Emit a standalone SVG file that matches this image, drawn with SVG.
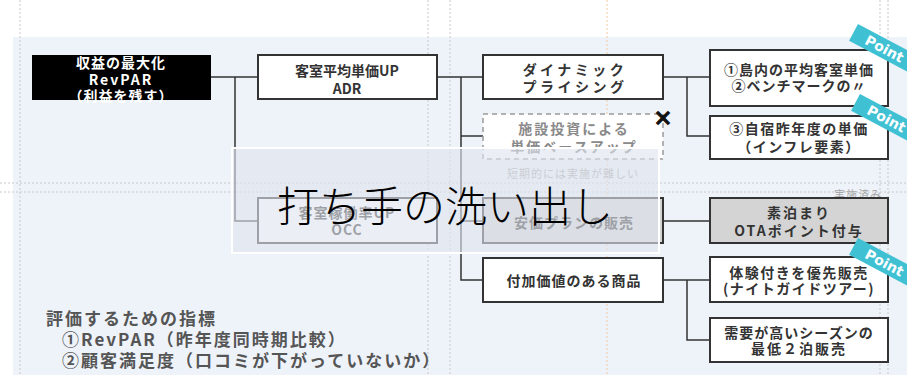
<svg xmlns="http://www.w3.org/2000/svg" width="907" height="375" viewBox="0 0 907 375">
<style>
.guide{stroke:#c8c8c8;stroke-width:1;stroke-dasharray:2 2;fill:none}
.box{fill:#ffffff;stroke:#333333;stroke-width:2}
.gbox{fill:#d4d4d4;stroke:#333333;stroke-width:2}
.dbox{fill:#ffffff;stroke:#9a9a9a;stroke-width:1.5;stroke-dasharray:5 4}
.t{font-family:"Noto Sans CJK JP","Noto Sans",sans-serif;font-weight:700;font-size:14px;fill:#333333;text-anchor:middle;dominant-baseline:central;letter-spacing:1px}
.tw{fill:#ffffff}
.tg{fill:#8a8a8a}
.small{font-family:"Noto Sans CJK JP",sans-serif;font-size:11px;fill:#a8a8a8;text-anchor:middle;dominant-baseline:central;letter-spacing:1px}
.conn path{fill:none;stroke:#333333;stroke-width:1.5}
.rib rect{fill:#3fc1d3}
.rib text{font-family:"DejaVu Sans",sans-serif;font-weight:700;font-size:14px;fill:#ffffff;text-anchor:middle;dominant-baseline:central}
.note{font-family:"Noto Sans CJK JP",sans-serif;font-weight:700;font-size:17px;fill:#555555;dominant-baseline:central;letter-spacing:2px}
</style>
<rect x="0" y="0" width="907" height="375" fill="#ffffff"/>
<rect x="13" y="37" width="894" height="338" fill="#eef3fa"/>
<g id="guides">
<line class="guide" x1="20" y1="0" x2="20" y2="375"/>
<line class="guide" x1="428" y1="0" x2="428" y2="375"/>
<line class="guide" x1="450" y1="0" x2="450" y2="375"/>
<line class="guide" x1="880" y1="0" x2="880" y2="375"/>
<line class="guide" x1="888" y1="0" x2="888" y2="375"/>
<line class="guide" x1="0" y1="183" x2="907" y2="183"/>
<line class="guide" x1="0" y1="192" x2="907" y2="192"/>
<line x1="607" y1="0" x2="607" y2="375" stroke="#f3c9a0" stroke-width="1" stroke-dasharray="2 2"/>
</g>
<g class="conn" id="connectors">
<path d="M211,77 H258"/>
<path d="M235,77 V221 H258"/>
<path d="M437,77 H483"/>
<path d="M461,77 V280 H483"/>
<path d="M461,136 H483"/>
<path d="M461,221 H483"/>
<path d="M663,77 H710"/>
<path d="M687,77 V136 H710"/>
<path d="M663,221 H710"/>
<path d="M663,280 H710"/>
<path d="M687,280 V340 H710"/>
</g>
<g id="root">
<rect x="32" y="55" width="179" height="45" fill="#000000"/>
<text class="t tw" x="121" y="62">収益の最大化</text>
<text class="t tw" x="121" y="79" style="letter-spacing:2px">RevPAR</text>
<text class="t tw" x="121" y="95">（利益を残す）</text>
</g>
<g id="adr">
<rect class="box" x="258" y="55" width="179" height="44"/>
<text class="t" x="347" y="70" style="letter-spacing:0">客室平均単価UP</text>
<text class="t" x="347" y="88" style="letter-spacing:0">ADR</text>
</g>
<g id="occ">
<rect class="box" x="258" y="198" width="179" height="45"/>
<text class="t" x="347" y="212">客室稼働率UP</text>
<text class="t" x="347" y="229">OCC</text>
</g>
<g id="dynamic">
<rect class="box" x="483" y="55" width="180" height="44"/>
<text class="t" x="575" y="69" style="letter-spacing:3.5px">ダイナミック</text>
<text class="t" x="575" y="86" style="letter-spacing:3.5px">プライシング</text>
</g>
<g id="invest">
<rect class="dbox" x="483" y="114" width="180" height="45"/>
<text class="t tg" x="574" y="128" style="letter-spacing:2px">施設投資による</text>
<text class="t tg" x="574" y="146" style="letter-spacing:2px">単価ベースアップ</text>
<text x="663" y="118" font-family="DejaVu Sans,sans-serif" font-weight="700" font-size="22" fill="#111111" stroke="#111111" stroke-width="1.2" text-anchor="middle" dominant-baseline="central">✕</text>
</g>
<text class="small" x="573" y="173">短期的には実施が難しい</text>
<g id="cheap">
<rect class="gbox" x="483" y="198" width="180" height="45"/>
<text class="t" x="574" y="222">安価プランの販売</text>
</g>
<g id="addvalue">
<rect class="box" x="483" y="258" width="180" height="44"/>
<text class="t" x="574" y="280">付加価値のある商品</text>
</g>
<g id="p1">
<rect class="box" x="710" y="50" width="178" height="56"/>
<text class="t" x="799" y="69">①島内の平均客室単価</text>
<text class="t" x="799" y="85">②ベンチマークの〃</text>
</g>
<g id="p3">
<rect class="box" x="710" y="116" width="178" height="43"/>
<text class="t" x="799" y="128" style="letter-spacing:1.5px">③自宿昨年度の単価</text>
<text class="t" x="799" y="146" style="letter-spacing:1.5px">（インフレ要素）</text>
</g>
<text class="small" x="858" y="194">実施済み</text>
<g id="sudomari">
<rect class="gbox" x="710" y="198" width="178" height="45"/>
<text class="t" x="799" y="212" style="letter-spacing:2px">素泊まり</text>
<text class="t" x="799" y="230" style="letter-spacing:2px">OTAポイント付与</text>
</g>
<g id="taiken">
<rect class="box" x="710" y="257" width="178" height="45"/>
<text class="t" x="799" y="272" style="letter-spacing:1.5px">体験付きを優先販売</text>
<text class="t" x="799" y="288" style="letter-spacing:1.5px">(ナイトガイドツアー)</text>
</g>
<g id="juyo">
<rect class="box" x="710" y="318" width="178" height="44"/>
<text class="t" x="799" y="332">需要が高いシーズンの</text>
<text class="t" x="799" y="348" style="letter-spacing:2px">最低２泊販売</text>
</g>
<g class="rib" id="ribbons">
<g transform="translate(858,24) rotate(28)"><rect x="0" y="0" width="95" height="19"/><text x="35" y="9.5">Point</text></g>
<g transform="translate(860,94) rotate(28)"><rect x="0" y="0" width="95" height="19"/><text x="35" y="9.5">Point</text></g>
<g transform="translate(858,238) rotate(28)"><rect x="0" y="0" width="95" height="19"/><text x="35" y="9.5">Point</text></g>
</g>
<g id="metrics">
<text class="note" x="46" y="317">評価するための指標</text>
<text class="note" x="62" y="338">①RevPAR（昨年度同時期比較）</text>
<text class="note" x="62" y="359">②顧客満足度（口コミが下がっていないか）</text>
</g>
<g id="overlay">
<rect x="232" y="148" width="427" height="105" fill="#dfe4ed" fill-opacity="0.62" stroke="#ffffff" stroke-width="2"/>
<text x="445" y="203" font-family="Noto Sans CJK JP,sans-serif" font-weight="300" font-size="42" fill="#000000" text-anchor="middle" dominant-baseline="central">打ち手の洗い出し</text>
</g>
</svg>
